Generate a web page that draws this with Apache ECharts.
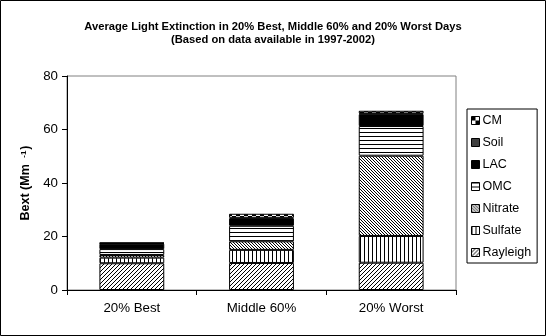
<!DOCTYPE html>
<html>
<head>
<meta charset="utf-8">
<script src="https://cdn.jsdelivr.net/npm/echarts@6/dist/echarts.min.js"></script>
<style>
  html, body { margin: 0; padding: 0; background: #fff; }
  #chart { width: 546px; height: 336px; }
</style>
</head>
<body>
<div id="chart"></div>
<script>
// Categories and stacked light-extinction components (Mm-1)
const categories = ['20% Best', 'Middle 60%', '20% Worst'];
const rayleigh = [10.0, 10.1, 10.2];
const sulfate  = [2.1, 4.9, 10.0];
const nitrate  = [1.0, 3.2, 30.0];
const omc      = [2.2, 5.8, 11.1];
const lac      = [2.0, 2.7, 4.4];
const soil     = [0.2, 0.3, 0.3];
const cm       = [0.2, 1.5, 1.0];
const yTicks   = [0, 20, 40, 60, 80];

// Build a repeating black/white fill from a pixel rule
function pattern(w, h, isBlack) {
  const c = document.createElement('canvas');
  c.width = w; c.height = h;
  const ctx = c.getContext('2d');
  const img = ctx.createImageData(w, h);
  for (let y = 0; y < h; y++) {
    for (let x = 0; x < w; x++) {
      const v = isBlack(x, y) ? 0 : 255;
      const i = (y * w + x) * 4;
      img.data[i] = v; img.data[i + 1] = v; img.data[i + 2] = v; img.data[i + 3] = 255;
    }
  }
  ctx.putImageData(img, 0, 0);
  return { image: c, repeat: 'repeat' };
}

const fills = {
  Rayleigh: pattern(4, 4, (x, y) => (x + y) % 4 === 3),
  Sulfate:  pattern(4, 4, (x, y) => x % 4 === 0),
  Nitrate:  pattern(3, 3, (x, y) => ((x - y) % 3 + 3) % 3 === 0),
  OMC:      pattern(4, 4, (x, y) => y % 4 === 0),
  LAC:      '#000',
  Soil:     pattern(2, 2, (x, y) => !(x % 2 === 0 && y % 2 === 0)),
  CM:       pattern(8, 8, (x, y) => ((x >> 2) + (y >> 2)) % 2 === 0)
};

const seriesDefs = [
  ['Rayleigh', rayleigh],
  ['Sulfate', sulfate],
  ['Nitrate', nitrate],
  ['OMC', omc],
  ['LAC', lac],
  ['Soil', soil],
  ['CM', cm]
];

const font = 'Arial, "Liberation Sans", sans-serif';

const chart = echarts.init(document.getElementById('chart'), null, { renderer: 'canvas' });

chart.setOption({
  animation: false,
  backgroundColor: '#fff',
  textStyle: { fontFamily: font, color: '#000' },
  title: {
    text: 'Average Light Extinction in 20% Best, Middle 60% and 20% Worst Days\n(Based on data available in 1997-2002)',
    left: 'center',
    top: 15,
    textStyle: { fontFamily: font, fontSize: 11.2, fontWeight: 'bold', color: '#000', lineHeight: 13.5 }
  },
  grid: {
    left: 67, right: 90, top: 76, bottom: 46,
    show: true, borderColor: '#808080', borderWidth: 1, backgroundColor: '#fff'
  },
  legend: {
    orient: 'vertical',
    left: 467, top: 109,
    width: 69,
    padding: [5, 6, 4, 4],
    itemGap: 9,
    itemWidth: 8, itemHeight: 8,
    borderColor: '#000', borderWidth: 1, backgroundColor: '#fff',
    borderRadius: 0,
    icon: 'rect',
    textStyle: { fontFamily: font, fontSize: 12.5, color: '#000', padding: [0, 0, 0, -2] },
    itemStyle: { borderColor: '#000', borderWidth: 1 },
    data: ['CM', 'Soil', 'LAC', 'OMC', 'Nitrate', 'Sulfate', 'Rayleigh']
  },
  xAxis: {
    type: 'category',
    data: categories,
    axisLine: { lineStyle: { color: '#000', width: 1 } },
    axisTick: { show: true, length: 5, lineStyle: { color: '#000' } },
    axisLabel: { fontFamily: font, fontSize: 13.3, color: '#000', margin: 12 }
  },
  yAxis: {
    type: 'value',
    min: 0, max: yTicks[yTicks.length - 1], interval: yTicks[1] - yTicks[0],
    name: '{a|Bext (Mm }{b|-1}{a|)}',
    nameLocation: 'middle',
    nameRotate: 90,
    nameGap: 32,
    nameTextStyle: {
      rich: {
        a: { fontFamily: font, fontSize: 12.5, fontWeight: 'bold', color: '#000' },
        b: { fontFamily: font, fontSize: 8, fontWeight: 'bold', color: '#000', padding: [0, 1, 5, 3] }
      }
    },
    axisLine: { show: true, lineStyle: { color: '#000', width: 1 } },
    axisTick: { show: true, length: 5, lineStyle: { color: '#000' } },
    axisLabel: { fontFamily: font, fontSize: 13.3, color: '#000', margin: 9 },
    splitLine: { show: false }
  },
  graphic: [{
    type: 'rect',
    shape: { x: 0.5, y: 0.5, width: 545, height: 335 },
    style: { fill: null, stroke: '#000', lineWidth: 1 },
    silent: true, z: 100
  }],
  series: seriesDefs.map(([name, values]) => ({
    name,
    type: 'bar',
    stack: 'bext',
    barWidth: '50%',
    data: values,
    itemStyle: { color: fills[name], borderColor: '#000', borderWidth: 1 }
  }))
});
</script>
</body>
</html>
